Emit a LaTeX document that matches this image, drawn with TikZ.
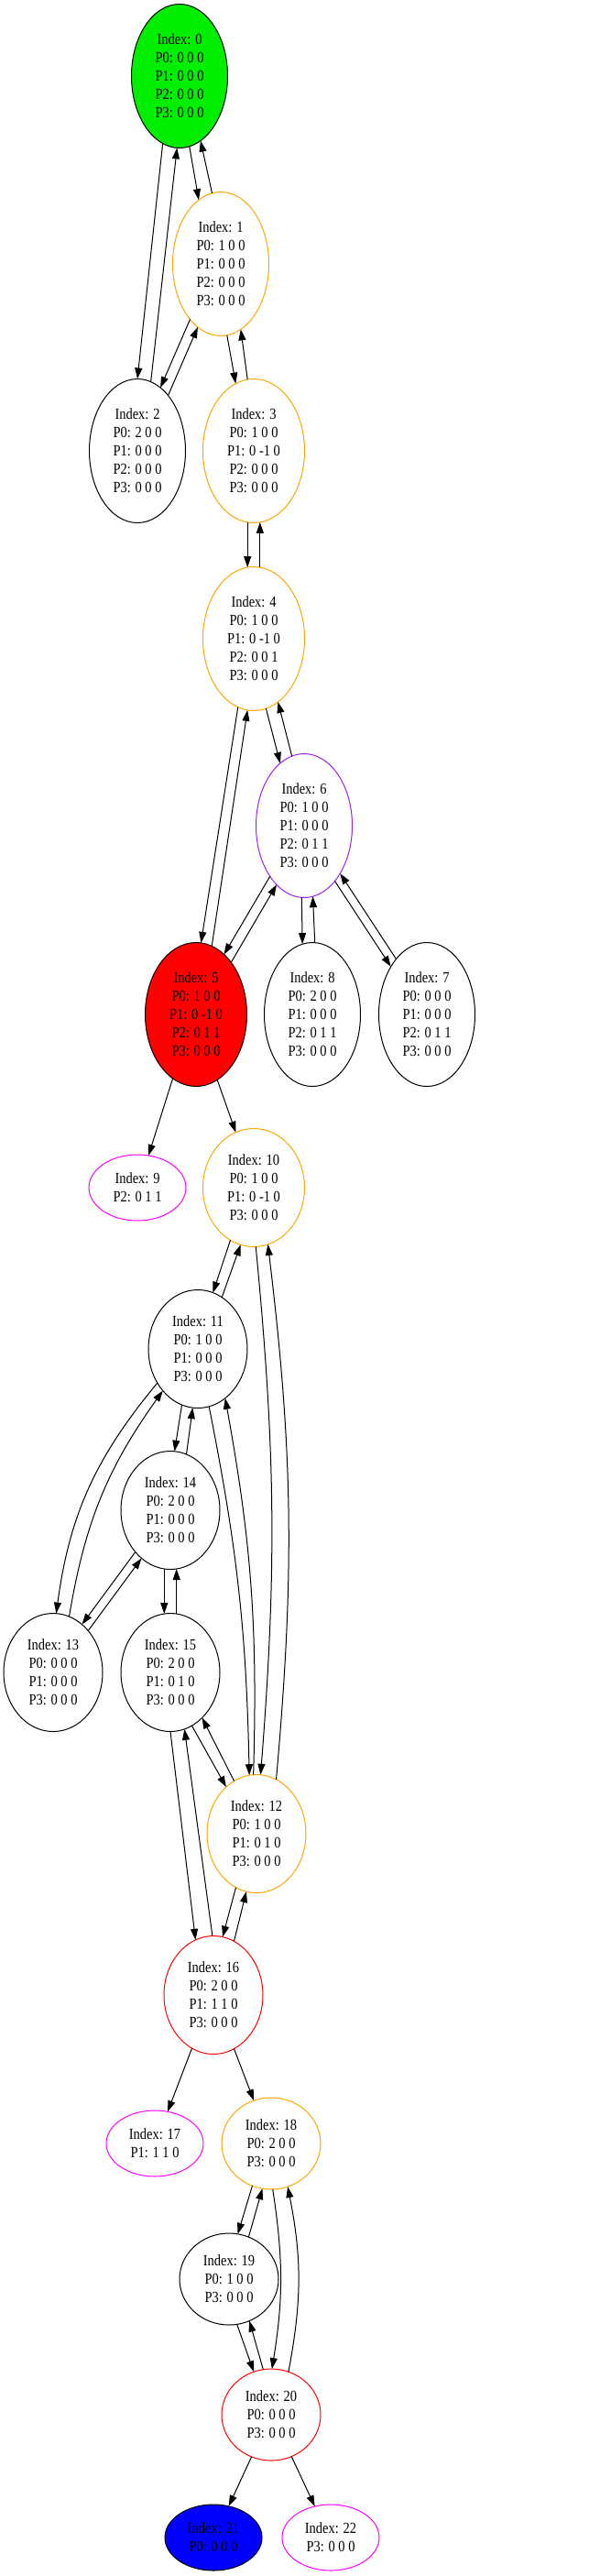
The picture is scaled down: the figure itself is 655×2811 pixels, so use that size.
\documentclass[tikz,border=0pt]{standalone}
\usepackage{fontspec}
\setmainfont{Liberation Serif}[FakeStretch=0.85]
\usepackage{tikz}
\usetikzlibrary{shapes.geometric,arrows.meta,positioning}

\definecolor{gvgreen}{RGB}{0,238,0}
\definecolor{gvorange}{RGB}{255,165,0}
\definecolor{gvpurple}{RGB}{160,32,240}
\definecolor{gvmagenta}{RGB}{255,0,255}

\begin{document}
\begin{tikzpicture}[x=1pt,y=-1pt,
    st/.style={ellipse,draw,line width=1pt,inner sep=0pt,outer sep=0pt,align=center,font=\fontsize{17}{20}\selectfont},
    l5/.style={st,minimum width=105pt,minimum height=157pt},
    l4/.style={st,minimum width=108pt,minimum height=129pt},
    l3/.style={st,minimum width=108pt,minimum height=100pt},
    l2/.style={st,minimum width=106pt,minimum height=72pt},
    tr/.style={-{Triangle[length=12pt,width=8pt]},line width=1pt}]
                      \useasboundingbox (0,0) rectangle (655,2811);

                      \node[l5,fill=gvgreen] (n0) at (196,83) {Index: 0\\P0: 0 0 0\\P1: 0 0 0\\P2: 0 0 0\\P3: 0 0 0};
                      \node[l5,draw=gvorange] (n1) at (241,288) {Index: 1\\P0: 1 0 0\\P1: 0 0 0\\P2: 0 0 0\\P3: 0 0 0};
                      \node[l5] (n2) at (150,492) {Index: 2\\P0: 2 0 0\\P1: 0 0 0\\P2: 0 0 0\\P3: 0 0 0};
                      \node[l5,minimum width=111pt,draw=gvorange] (n3) at (277,492) {Index: 3\\P0: 1 0 0\\P1: 0 -1 0\\P2: 0 0 0\\P3: 0 0 0};
                      \node[l5,minimum width=111pt,draw=gvorange] (n4) at (277,697) {Index: 4\\P0: 1 0 0\\P1: 0 -1 0\\P2: 0 0 1\\P3: 0 0 0};
                      \node[l5,draw=gvpurple] (n6) at (332,901) {Index: 6\\P0: 1 0 0\\P1: 0 0 0\\P2: 0 1 1\\P3: 0 0 0};
                      \node[l5,minimum width=111pt,fill=red] (n5) at (214,1107) {Index: 5\\P0: 1 0 0\\P1: 0 -1 0\\P2: 0 1 1\\P3: 0 0 0};
                      \node[l5] (n8) at (341,1107) {Index: 8\\P0: 2 0 0\\P1: 0 0 0\\P2: 0 1 1\\P3: 0 0 0};
                      \node[l5] (n7) at (466,1107) {Index: 7\\P0: 0 0 0\\P1: 0 0 0\\P2: 0 1 1\\P3: 0 0 0};
                      \node[l2,draw=gvmagenta] (n9) at (150,1296) {Index: 9\\P2: 0 1 1};
                      \node[l4,minimum width=111pt,draw=gvorange] (n10) at (277,1296) {Index: 10\\P0: 1 0 0\\P1: 0 -1 0\\P3: 0 0 0};
                      \node[l4] (n11) at (216,1472) {Index: 11\\P0: 1 0 0\\P1: 0 0 0\\P3: 0 0 0};
                      \node[l4] (n14) at (186,1648) {Index: 14\\P0: 2 0 0\\P1: 0 0 0\\P3: 0 0 0};
                      \node[l4] (n13) at (58,1825) {Index: 13\\P0: 0 0 0\\P1: 0 0 0\\P3: 0 0 0};
                      \node[l4] (n15) at (186,1825) {Index: 15\\P0: 2 0 0\\P1: 0 1 0\\P3: 0 0 0};
                      \node[l4,draw=gvorange] (n12) at (280,2001) {Index: 12\\P0: 1 0 0\\P1: 0 1 0\\P3: 0 0 0};
                      \node[l4,draw=red] (n16) at (233,2177) {Index: 16\\P0: 2 0 0\\P1: 1 1 0\\P3: 0 0 0};
                      \node[l2,draw=gvmagenta] (n17) at (169,2339) {Index: 17\\P1: 1 1 0};
                      \node[l3,draw=gvorange] (n18) at (296,2339) {Index: 18\\P0: 2 0 0\\P3: 0 0 0};
                      \node[l3] (n19) at (250,2487) {Index: 19\\P0: 1 0 0\\P3: 0 0 0};
                      \node[l3,draw=red] (n20) at (296,2635) {Index: 20\\P0: 0 0 0\\P3: 0 0 0};
                      \node[l2,fill=blue] (n21) at (233,2769) {Index: 21\\P0: 0 0 0};
                      \node[l2,draw=gvmagenta] (n22) at (361,2769) {Index: 22\\P3: 0 0 0};

                      \draw[tr] (n0.-104) -- (n2.90);
                      \draw[tr] (n2.79) -- (n0.-92);
                      \draw[tr] (n0.-82) -- (n1.109);
                      \draw[tr] (n1.97) -- (n0.-72);
                      \draw[tr] (n1.-119) -- (n2.70);
                      \draw[tr] (n2.61) -- (n1.-110);
                      \draw[tr] (n1.-85) -- (n3.105);
                      \draw[tr] (n3.95) -- (n1.-73);
                      \draw[tr] (n3.-95) -- (n4.95);
                      \draw[tr] (n4.85) -- (n3.-85);
                      \draw[tr] (n4.-103) -- (n5.86);
                      \draw[tr] (n5.77) -- (n4.-95);
                      \draw[tr] (n4.-80) -- (n6.111);
                      \draw[tr] (n6.100) -- (n4.-69);
                      \draw[tr] (n6.-124) -- (n5.65);
                      \draw[tr] (n5.56) -- (n6.-115);
                      \draw[tr] (n6.-92) -- (n8.98);
                      \draw[tr] (n8.88) -- (n6.-83);
                      \draw[tr] (n6.-61) -- (n7.127);
                      \draw[tr] (n7.119) -- (n6.-53);
                      \draw[tr] (n5.-110) -- (n9.71);
                      \draw[tr] (n5.-72) -- (n10.108);
                      \draw[tr] (n10.-114) -- (n11.75);
                      \draw[tr] (n11.65) -- (n10.-103);
                      \draw[tr] (n10.-88) to[bend left=5] (n12.86);
                      \draw[tr] (n12.70) to[bend right=6] (n10.-76);
                      \draw[tr] (n11.-79) to[bend left=5] (n12.97);
                      \draw[tr] (n12.93) to[bend right=6] (n11.-61);
                      \draw[tr] (n11.-140) to[bend right=16] (n13.87);
                      \draw[tr] (n13.74) to[bend left=13] (n11.-130);
                      \draw[tr] (n11.-106) -- (n14.86);
                      \draw[tr] (n14.74) -- (n11.-95);
                      \draw[tr] (n14.-130) -- (n13.59);
                      \draw[tr] (n13.50) -- (n14.-121);
                      \draw[tr] (n14.-96) -- (n15.96);
                      \draw[tr] (n15.84) -- (n14.-84);
                      \draw[tr] (n15.-90) -- (n16.108);
                      \draw[tr] (n16.91) -- (n15.-76);
                      \draw[tr] (n15.-68) -- (n12.123);
                      \draw[tr] (n12.113) -- (n15.-55);
                      \draw[tr] (n12.-111) -- (n16.81);
                      \draw[tr] (n16.69) -- (n12.-100);
                      \draw[tr] (n16.-112) -- (n17.68);
                      \draw[tr] (n16.-69) -- (n18.112);
                      \draw[tr] (n18.-114) -- (n19.79);
                      \draw[tr] (n19.65) -- (n18.-101);
                      \draw[tr] (n18.-88) to[bend left=9] (n20.89);
                      \draw[tr] (n20.68) to[bend right=11] (n18.-69);
                      \draw[tr] (n19.-80) -- (n20.112);
                      \draw[tr] (n20.100) -- (n19.-64);
                      \draw[tr] (n20.-115) -- (n21.64);
                      \draw[tr] (n20.-64) -- (n22.117);
                    \end{tikzpicture}
\end{document}
